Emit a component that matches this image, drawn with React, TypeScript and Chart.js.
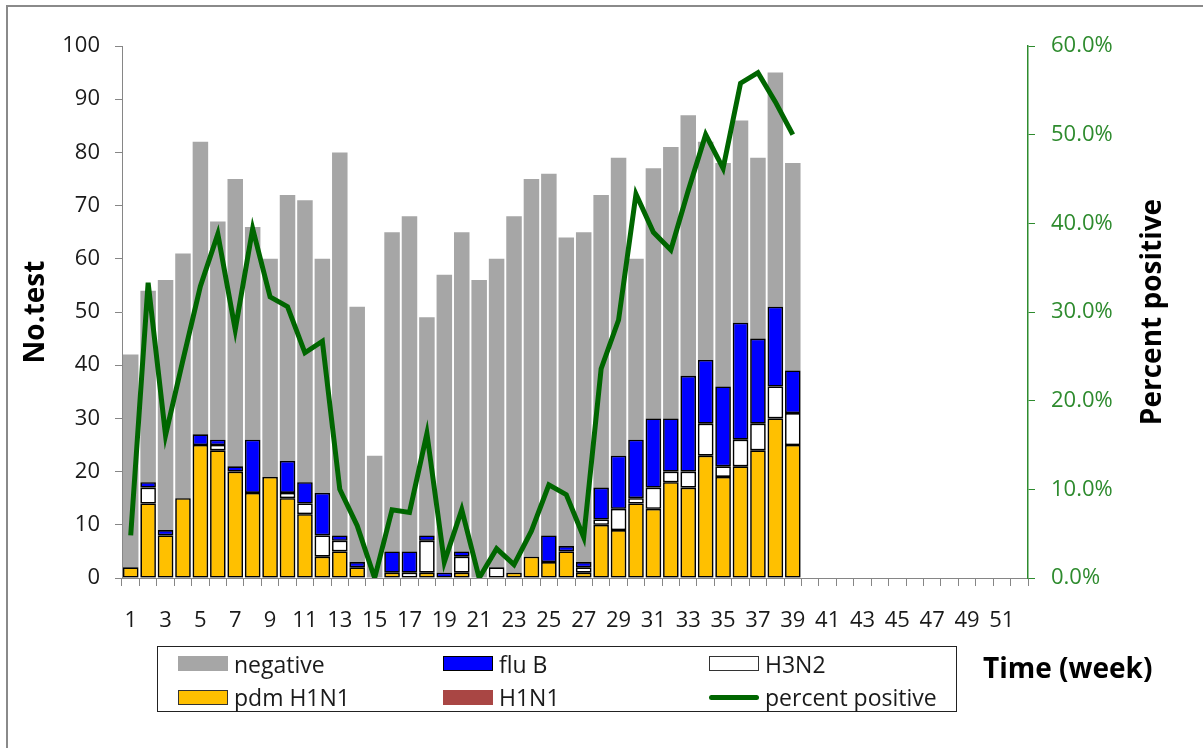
import React, { useEffect, useRef } from 'react';
import { Chart, registerables } from 'chart.js';

Chart.register(...registerables);

const weeks = ['1','2','3','4','5','6','7','8','9','10','11','12','13','14','15','16','17','18','19','20','21','22','23','24','25','26','27','28','29','30','31','32','33','34','35','36','37','38','39','40','41','42','43','44','45','46','47','48','49','50','51','52'];
const shownWeekTicks = ['1','3','5','7','9','11','13','15','17','19','21','23','25','27','29','31','33','35','37','39','41','43','45','47','49','51'];

const totalTested = [42,54,56,61,82,67,75,66,60,72,71,60,80,51,23,65,68,49,57,65,56,60,68,75,76,64,65,72,79,60,77,81,87,82,78,86,79,95,78];
const pdmH1N1 = [2,14,8,15,25,24,20,16,19,15,12,4,5,2,0,1,0,1,0,1,0,0,1,4,3,5,1,10,9,14,13,18,17,23,19,21,24,30,25];
const seasonalH1N1 = [0,0,0,0,0,0,0,0,0,0,0,0,0,0,0,0,0,0,0,0,0,0,0,0,0,0,0,0,0,0,0,0,0,0,0,0,0,0,0];
const h3n2 = [0,3,0,0,0,1,0,0,0,1,2,4,2,0,0,0,1,6,0,3,0,2,0,0,0,0,1,1,4,1,4,2,3,6,2,5,5,6,6];
const fluB = [0,1,1,0,2,1,1,10,0,6,4,8,1,1,0,4,4,1,1,1,0,0,0,0,5,1,1,6,10,11,13,10,18,12,15,22,16,15,8];
const percentPositive = [4.8,33.3,16.1,24.6,32.9,38.8,28.0,39.4,31.7,30.6,25.4,26.7,10.0,5.9,0,7.7,7.4,16.3,1.8,7.7,0,3.3,1.5,5.3,10.5,9.4,4.6,23.6,29.1,43.3,39.0,37.0,43.7,50.0,46.2,55.8,57.0,53.7,50.0];

const FONT = '"Open Sans", "Noto Sans", sans-serif';
const GREEN_AXIS = '#2E8B2E';
const LINE_GREEN = '#006600';
const AXIS_GRAY = '#868686';

export default function App() {
  const ref = useRef<HTMLCanvasElement>(null);

  useEffect(() => {
    if (!ref.current) return;
    const rightTitle = {
      id: 'rightTitle',
      afterDraw(chart: any) {
        const { ctx, chartArea } = chart;
        const s = chart.scales.y1;
        ctx.save();
        ctx.translate(s.left + 125, (chartArea.top + chartArea.bottom) / 2);
        ctx.rotate(-Math.PI / 2);
        ctx.font = `bold 28px ${FONT}`;
        ctx.fillStyle = '#000';
        ctx.textAlign = 'center';
        ctx.textBaseline = 'middle';
        ctx.fillText('Percent positive', 0, 0);
        ctx.restore();
      },
    };
    const barBase: any = {
      type: 'bar',
      grouped: false,
      borderSkipped: false,
      borderColor: '#000',
      borderWidth: 1.6,
      yAxisID: 'y',
      order: 1,
      stack: 'positive',
      barPercentage: 0.89,
      categoryPercentage: 1,
    };
    const chart = new Chart(ref.current, {
      type: 'bar',
      data: {
        labels: weeks,
        datasets: [
          {
            type: 'line',
            label: 'percent positive',
            data: percentPositive,
            yAxisID: 'y1',
            borderColor: LINE_GREEN,
            backgroundColor: LINE_GREEN,
            borderWidth: 5,
            pointRadius: 0,
            tension: 0,
            fill: false,
            order: 0,
          } as any,
          { ...barBase, label: 'pdm H1N1', data: pdmH1N1, backgroundColor: '#FFC000' },
          { ...barBase, label: 'H1N1', data: seasonalH1N1, backgroundColor: '#A94644' },
          { ...barBase, label: 'H3N2', data: h3n2, backgroundColor: '#FFFFFF' },
          { ...barBase, label: 'flu B', data: fluB, backgroundColor: '#0000FF' },
          {
            type: 'bar',
            label: 'negative',
            data: totalTested,
            backgroundColor: '#A6A6A6',
            borderWidth: 0,
            grouped: false,
            stack: 'total',
            order: 2,
            yAxisID: 'y',
            barPercentage: 0.89,
            categoryPercentage: 1,
          } as any,
        ],
      },
      options: {
        responsive: false,
        animation: false,
        layout: { padding: { left: 0, right: 75, top: 46, bottom: 110 } },
        plugins: {
          legend: { display: false },
          tooltip: { enabled: false },
        },
        scales: {
          x: {
            grid: { display: true, drawOnChartArea: false, drawTicks: true, tickLength: 8, color: AXIS_GRAY, offset: true },
            border: { display: true, color: AXIS_GRAY, width: 1 },
            ticks: {
              autoSkip: false,
              maxRotation: 0,
              minRotation: 0,
              padding: 22,
              color: '#1a1a1a',
              font: { family: FONT, size: 22 },
              callback: (_v: any, i: number) => (shownWeekTicks.includes(weeks[i]) ? weeks[i] : ''),
            },
            afterFit: (s: any) => { s.height = 60; },
          } as any,
          y: {
            position: 'left',
            stacked: true,
            min: 0,
            max: 100,
            ticks: { stepSize: 10, padding: 15, color: '#1a1a1a', font: { family: FONT, size: 22 } },
            grid: { drawOnChartArea: false, tickLength: 7, color: AXIS_GRAY },
            border: { color: AXIS_GRAY, width: 1 },
            title: {
              display: true,
              text: 'No.test',
              color: '#000',
              font: { family: FONT, size: 28, weight: 'bold' },
              padding: { top: 19, bottom: 0 },
            },
            afterFit: (s: any) => { s.width = 122; },
          } as any,
          y1: {
            position: 'right',
            min: 0,
            max: 60,
            ticks: {
              stepSize: 10,
              padding: 16,
              color: GREEN_AXIS,
              font: { family: FONT, size: 22 },
              callback: (v: any) => `${Number(v).toFixed(1)}%`,
            },
            grid: { drawOnChartArea: false, tickLength: 7, color: GREEN_AXIS },
            border: { color: GREEN_AXIS, width: 1.5 },
            afterFit: (s: any) => { s.width = 100; },
          } as any,
        },
      },
      plugins: [rightTitle],
    });
    return () => chart.destroy();
  }, []);

  const legendItems = [
    { label: 'negative', kind: 'box', fill: '#A6A6A6', stroke: 'none', col: 0, row: 0 },
    { label: 'flu B', kind: 'box', fill: '#0000FF', stroke: '#000', col: 1, row: 0 },
    { label: 'H3N2', kind: 'box', fill: '#FFFFFF', stroke: '#333', col: 2, row: 0 },
    { label: 'pdm H1N1', kind: 'box', fill: '#FFC000', stroke: '#333', col: 0, row: 1 },
    { label: 'H1N1', kind: 'box', fill: '#A94644', stroke: 'none', col: 1, row: 1 },
    { label: 'percent positive', kind: 'line', fill: LINE_GREEN, stroke: 'none', col: 2, row: 1 },
  ];
  const colSwatchX = [20, 285, 551];
  const colTextX = [76, 341, 607];
  const rowCenter = [16.5, 50];

  return (
    <div style={{ position: 'fixed', left: 0, top: 0, width: 1203, height: 748, background: '#fff', overflow: 'hidden', fontFamily: FONT }}>
      <div style={{ position: 'absolute', left: 6, top: 5, width: 1300, height: 900, border: '2px solid #8a8a8a' }} />
      <canvas ref={ref} width={1203} height={748} style={{ position: 'absolute', left: 0, top: 0, width: 1203, height: 748 }} />
      <div style={{ position: 'absolute', left: 157, top: 646, width: 800, height: 66, border: '1.5px solid #222', boxSizing: 'border-box' }}>
        {legendItems.map((it) => (
          <React.Fragment key={it.label}>
            {it.kind === 'box' ? (
              <div style={{
                position: 'absolute', left: colSwatchX[it.col], top: rowCenter[it.row] - 7.5, width: 50, height: 15,
                background: it.fill, border: it.stroke === 'none' ? 'none' : `1.5px solid ${it.stroke}`, boxSizing: 'border-box',
              }} />
            ) : (
              <div style={{
                position: 'absolute', left: colSwatchX[it.col], top: rowCenter[it.row] - 2.5, width: 50, height: 5,
                background: it.fill, borderRadius: 3,
              }} />
            )}
            <div style={{
              position: 'absolute', left: colTextX[it.col], top: rowCenter[it.row] - 16, height: 32, lineHeight: '32px',
              fontSize: 23, color: '#1a1a1a', whiteSpace: 'nowrap',
            }}>{it.label}</div>
          </React.Fragment>
        ))}
      </div>
      <div style={{ position: 'absolute', left: 983, top: 649, height: 36, lineHeight: '36px', fontSize: 28, fontWeight: 'bold', color: '#000', whiteSpace: 'nowrap' }}>
        Time (week)
      </div>
    </div>
  );
}
